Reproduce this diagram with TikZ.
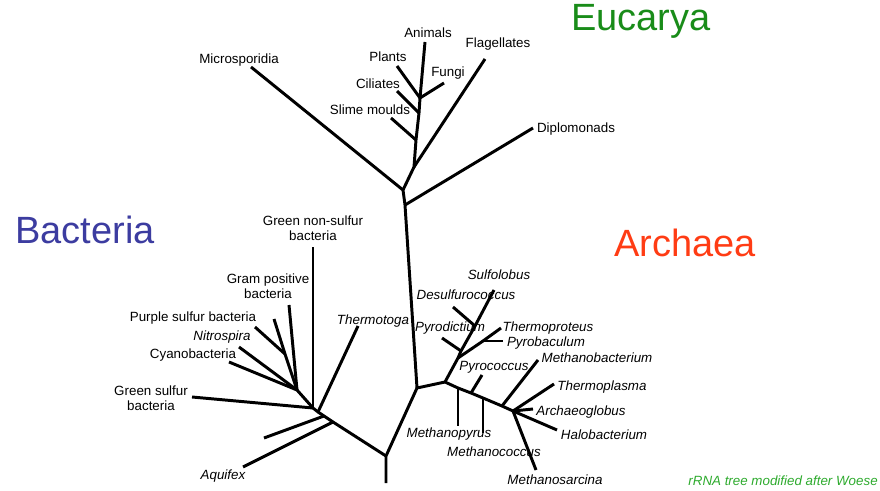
\documentclass[tikz,border=0pt]{standalone}
\usepackage{fontspec}
\setmainfont{Liberation Sans}
\usepackage{tikz}
\usepackage{xcolor}
\definecolor{cEuk}{RGB}{25,140,25}
\definecolor{cBac}{RGB}{60,60,160}
\definecolor{cArc}{RGB}{255,60,20}
\definecolor{cNote}{RGB}{45,170,45}
\tikzset{
  branch/.style={line width=2.1pt, line join=round, black},
  taxon/.style={font=\fontsize{9.5}{11}\selectfont, inner sep=0pt, align=center},
  genus/.style={taxon, font=\fontsize{9.5}{11}\selectfont\itshape},
  domaintitle/.style={font=\fontsize{27}{30}\selectfont, inner sep=0pt, anchor=base}
}

\begin{document}
\begin{tikzpicture}[x=0.025cm, y=-0.025cm]
  \useasboundingbox (0,0) rectangle (880,491);

  % domain titles
  \node[domaintitle, text=cEuk] (eucarya) at (641,31) {Eucarya};
  \node[domaintitle, text=cBac] (bacteria) at (85,243) {Bacteria};
  \node[domaintitle, text=cArc] (archaea) at (685,257) {Archaea};
  \node[genus, text=cNote, anchor=base east] (woese) at (878,485) {rRNA tree modified after Woese};

  % junctions
  \coordinate (eRoot) at (403,190);
  \coordinate (eDip) at (405,205);
  \coordinate (eStem) at (414,167);
  \coordinate (jSlime) at (416,140);
  \coordinate (jCil) at (419,113);
  \coordinate (jPlant) at (420,98);
  \coordinate (aJoin) at (417,388);
  \coordinate (aNode) at (445,382);
  \coordinate (jThermo) at (458,358);
  \coordinate (jPyrod) at (461,351);
  \coordinate (jDesulf) at (475,326);
  \coordinate (jPyrob) at (483,341);
  \coordinate (jMpyrus) at (458,388);
  \coordinate (jPyroc) at (471,393);
  \coordinate (jMcoc) at (483,398);
  \coordinate (jMbact) at (502,406);
  \coordinate (eNode) at (513,411);
  \coordinate (bJoin) at (386,456);
  \coordinate (jAquif) at (333,422);
  \coordinate (jStub) at (324,416);
  \coordinate (jThermot) at (318,412);
  \coordinate (bNode) at (313,408);
  \coordinate (cNode) at (297,390);
  \coordinate (jPurple) at (285,354);

  % tips
  \coordinate (tMicro) at (251,67);
  \coordinate (tFlag) at (485,59);
  \coordinate (tAnim) at (425,42);
  \coordinate (tSlime) at (391,118);
  \coordinate (tCil) at (397,91);
  \coordinate (tPlant) at (397,66);
  \coordinate (tFungi) at (444,83);
  \coordinate (tDip) at (533,128);
  \coordinate (tSulfo) at (494,290);
  \coordinate (tPyrod) at (442,338);
  \coordinate (tDesulf) at (453,307);
  \coordinate (tThermo) at (501,328);
  \coordinate (tPyrob) at (503,341);
  \coordinate (tMpyrus) at (458,426);
  \coordinate (tPyroc) at (482,375);
  \coordinate (tMcoc) at (483,433);
  \coordinate (tMbact) at (538,360);
  \coordinate (tTplasma) at (554,384);
  \coordinate (tArchaeo) at (533,409);
  \coordinate (tHalo) at (557,430);
  \coordinate (tMsarc) at (536,470);
  \coordinate (bStub) at (386,483);
  \coordinate (tAquif) at (243,467);
  \coordinate (tStub) at (264,438);
  \coordinate (tThermot) at (358,326);
  \coordinate (tGnonsulf) at (313,247);
  \coordinate (tGsulf) at (192,397);
  \coordinate (tCyano) at (229,362);
  \coordinate (tNitro) at (239,347);
  \coordinate (tGram) at (289,305);
  \coordinate (tPurp2) at (274,319);
  \coordinate (tPurple) at (255,327);

  % Eucarya labels
  \node[taxon] (microsporidia) at (239,60) {Microsporidia};
  \node[taxon] (animals) at (428,33) {Animals};
  \node[taxon] (plants) at (388,57) {Plants};
  \node[taxon] (fungi) at (448,73) {Fungi};
  \node[taxon] (ciliates) at (378,84) {Ciliates};
  \node[taxon] (slime) at (370,110) {Slime moulds};
  \node[taxon] (flagellates) at (498,44) {Flagellates};
  \node[taxon] (diplomonads) at (576,129) {Diplomonads};

  % Archaea labels
  \node[genus] (sulfolobus) at (499,275) {Sulfolobus};
  \node[genus] (desulfurococcus) at (466,295) {Desulfurococcus};
  \node[genus] (pyrodictium) at (450,328) {Pyrodictium};
  \node[genus] (thermoproteus) at (548,328) {Thermoproteus};
  \node[genus] (pyrobaculum) at (546,343) {Pyrobaculum};
  \node[genus] (pyrococcus) at (494,367) {Pyrococcus};
  \node[genus] (methanobacterium) at (597,358) {Methanobacterium};
  \node[genus] (thermoplasma) at (602,387) {Thermoplasma};
  \node[genus] (archaeoglobus) at (581,412) {Archaeoglobus};
  \node[genus] (halobacterium) at (604,435) {Halobacterium};
  \node[genus] (methanopyrus) at (449,434) {Methanopyrus};
  \node[genus] (methanococcus) at (494,452) {Methanococcus};
  \node[genus] (methanosarcina) at (555,480) {Methanosarcina};

  % Bacteria labels
  \node[taxon] (gnonsulf) at (313,228) {Green non-sulfur\\bacteria};
  \node[taxon] (grampos) at (268,286) {Gram positive\\bacteria};
  \node[taxon] (purple) at (193,318) {Purple sulfur bacteria};
  \node[genus] (nitrospira) at (222,337) {Nitrospira};
  \node[taxon] (cyano) at (193,355) {Cyanobacteria};
  \node[taxon] (gsulf) at (151,398) {Green sulfur\\bacteria};
  \node[genus] (thermotoga) at (373,321) {Thermotoga};
  \node[genus] (aquifex) at (223,476) {Aquifex};

  % main trunk
  \draw[branch] (aJoin) -- (eDip) -- (eRoot) -- (eStem) -- (jSlime) -- (jCil) -- (jPlant) -- (tAnim);
  \draw[branch] (bStub) -- (bJoin) -- (aJoin) -- (aNode);
  \draw[branch] (bJoin) -- (jAquif) -- (jStub) -- (jThermot) -- (bNode) -- (cNode);
  \draw[branch] (aNode) -- (jThermo) -- (jPyrod) -- (jDesulf) -- (tSulfo);
  \draw[branch] (aNode) -- (jMpyrus) -- (jPyroc) -- (jMcoc) -- (jMbact) -- (eNode);
  \draw[branch] (jThermo) -- (jPyrob) -- (tThermo);
  \draw[branch] (tPurp2) -- (jPurple) -- (cNode);

  % side branches
  \foreach \from/\to in {eRoot/tMicro, eStem/tFlag, eDip/tDip, jSlime/tSlime, jCil/tCil,
      jPlant/tPlant, jPlant/tFungi,
      jPyrod/tPyrod, jDesulf/tDesulf, jPyrob/tPyrob,
      jMpyrus/tMpyrus, jPyroc/tPyroc, jMcoc/tMcoc, jMbact/tMbact,
      eNode/tTplasma, eNode/tArchaeo, eNode/tHalo, eNode/tMsarc,
      jAquif/tAquif, jStub/tStub, jThermot/tThermot, bNode/tGnonsulf, bNode/tGsulf,
      cNode/tCyano, cNode/tNitro, cNode/tGram, jPurple/tPurple}
    \draw[branch] (\from) -- (\to);
\end{tikzpicture}
\end{document}
